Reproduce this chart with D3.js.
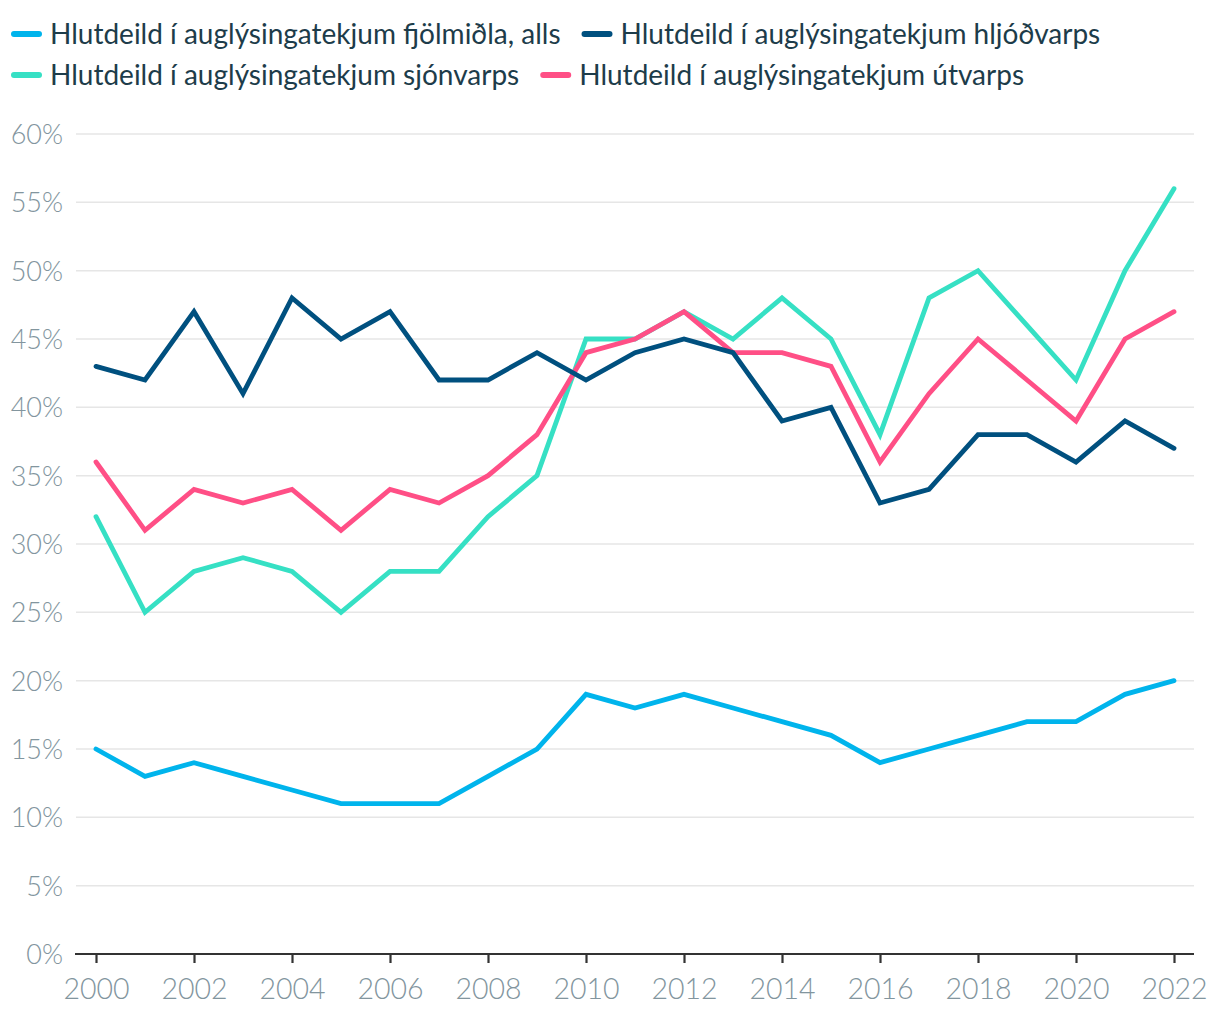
<!DOCTYPE html>
<html><head><meta charset="utf-8">
<script src="https://cdn.jsdelivr.net/npm/d3@7"></script>
<style>body{margin:0;background:#fff}svg{display:block}</style>
</head><body>
<svg id="c" width="1220" height="1020"></svg>
<script>
const years = d3.range(2000, 2023);
const seriesNames = [
  "Hlutdeild í auglýsingatekjum fjölmiðla, alls",
  "Hlutdeild í auglýsingatekjum hljóðvarps",
  "Hlutdeild í auglýsingatekjum sjónvarps",
  "Hlutdeild í auglýsingatekjum útvarps"
];
const seriesColors = ["#00b4ec", "#00507f", "#36e0c4", "#ff4f86"];
const fjolmidla = [15,13,14,13,12,11,11,11,13,15,19,18,19,18,17,16,14,15,16,17,17,19,20];
const hljodvarp = [43,42,47,41,48,45,47,42,42,44,42,44,45,44,39,40,33,34,38,38,36,39,37];
const sjonvarp  = [32,25,28,29,28,25,28,28,32,35,45,45,47,45,48,45,38,48,50,46,42,50,56];
const utvarp    = [36,31,34,33,34,31,34,33,35,38,44,45,47,44,44,43,36,41,45,42,39,45,47];
const seriesValues = [fjolmidla, hljodvarp, sjonvarp, utvarp];
const yTicks = [0,5,10,15,20,25,30,35,40,45,50,55,60];
const xTicks = [2000,2002,2004,2006,2008,2010,2012,2014,2016,2018,2020,2022];

const svg = d3.select("#c");
const x = d3.scaleLinear().domain([2000, 2022]).range([96, 1174]);
const y = d3.scaleLinear().domain([0, 60]).range([954, 134]);
const gridL = 76, gridR = 1194;

// gridlines
svg.append("g").selectAll("line").data(yTicks.filter(t => t > 0)).join("line")
  .attr("x1", gridL).attr("x2", gridR)
  .attr("y1", d => y(d)).attr("y2", d => y(d))
  .attr("stroke", "#e6e6e6").attr("stroke-width", 1.5);

// y labels
const yAxis = d3.axisLeft(y).tickValues(yTicks).tickFormat(d => d + "%").tickSize(0).tickPadding(0);
const gy = svg.append("g").attr("transform", "translate(63,0)").call(yAxis);
gy.select(".domain").remove();
gy.selectAll("text").attr("font-family", "Lato").attr("font-weight", 300)
  .attr("font-size", 27).attr("fill", "#82959e").attr("dy", "0.35em");

// x axis
const xAxis = d3.axisBottom(x).tickValues(xTicks).tickFormat(d3.format("d")).tickSize(9).tickPadding(16).tickSizeOuter(0);
const gx = svg.append("g").attr("transform", "translate(0,954)").call(xAxis);
gx.select(".domain").attr("d", `M${gridL - 1},0H${gridR}`).attr("stroke", "#333").attr("stroke-width", 2.2);
gx.selectAll(".tick line").attr("stroke", "#333").attr("stroke-width", 2.2);
gx.selectAll("text").attr("font-family", "Lato").attr("font-weight", 300)
  .attr("font-size", 28.5).attr("fill", "#82959e");

// lines
const line = d3.line().x((d, i) => x(years[i])).y(d => y(d));
const drawOrder = [0, 2, 3, 1];
drawOrder.forEach(k => {
  svg.append("path").attr("d", line(seriesValues[k]))
    .attr("fill", "none").attr("stroke", seriesColors[k]).attr("stroke-width", 4.8)
    .attr("stroke-linejoin", "miter").attr("stroke-linecap", "round");
});

// legend
const rows = [[0, 1], [2, 3]];
const rowY = [34, 75];
rows.forEach((r, ri) => {
  let cx = 11;
  r.forEach(k => {
    const g = svg.append("g");
    g.append("line").attr("x1", cx + 3).attr("x2", cx + 28).attr("y1", rowY[ri]).attr("y2", rowY[ri])
      .attr("stroke", seriesColors[k]).attr("stroke-width", 6).attr("stroke-linecap", "round");
    const t = g.append("text").attr("x", cx + 39).attr("y", rowY[ri]).attr("dy", "0.35em")
      .attr("font-family", "Lato").attr("font-size", 28).attr("fill", "#1d3c4a").text(seriesNames[k]);
    cx = cx + 39 + t.node().getComputedTextLength() + 21;
  });
});
</script>
</body></html>
